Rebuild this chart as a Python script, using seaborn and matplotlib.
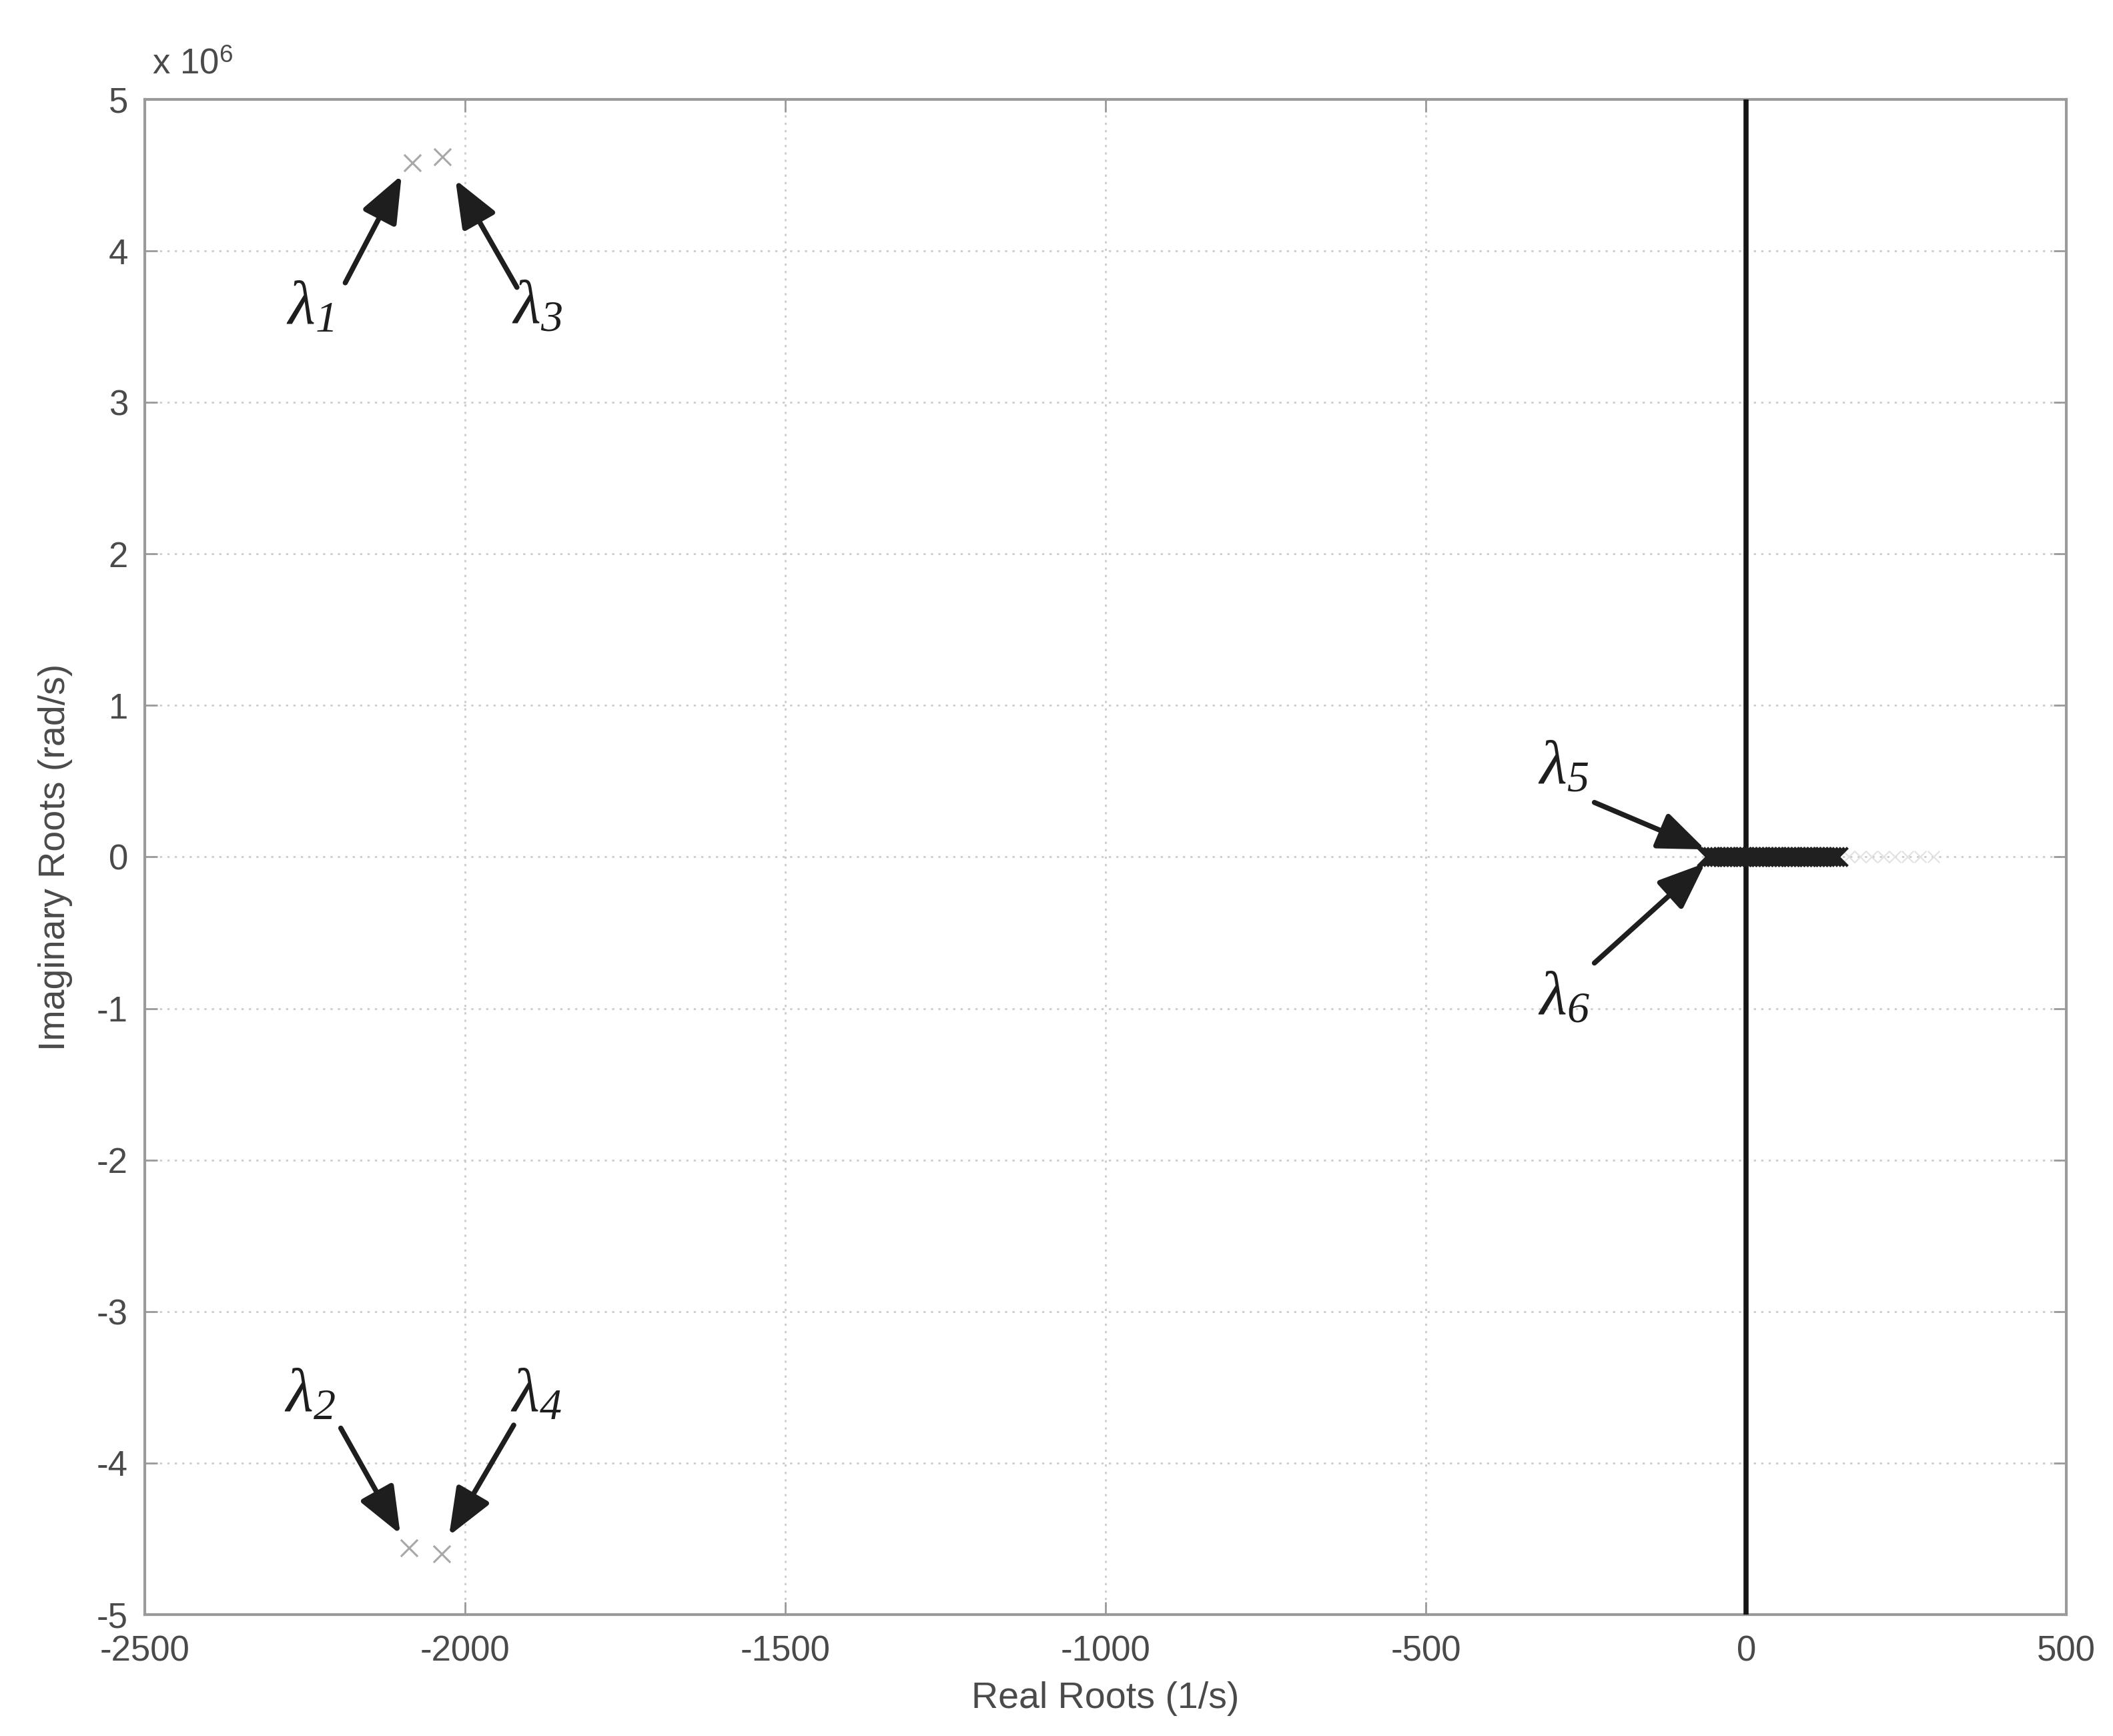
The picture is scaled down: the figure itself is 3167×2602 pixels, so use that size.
import numpy as np
import pandas as pd
import matplotlib
matplotlib.use("Agg")
import matplotlib.pyplot as plt
import seaborn as sns

# ---------------- data ----------------
# complex-conjugate high-frequency roots (real in 1/s, imaginary in 1e6 rad/s)
pair_real = [-2082, -2035, -2088, -2036]
pair_imag = [4.58, 4.62, -4.56, -4.60]

# dense cluster of real roots along the real axis (lambda5 / lambda6 locus)
locus_real = [-62, -57, -52, -47, -42, -37, -32, -27, -22, -17, -12, -7, -2,
              3, 8, 13, 18, 23, 28, 33, 38, 43, 48, 53, 58, 63, 68, 73, 78,
              83, 88, 93, 98, 103, 108, 113, 118, 123, 128, 133, 138, 143]
locus_imag = [0.0] * len(locus_real)

# faint continuation of the locus
faint_real = [160, 178, 196, 214, 232, 252, 272, 292]
faint_imag = [0.0] * len(faint_real)

# imaginary axis line
axis_line_x = [0, 0]
axis_line_y = [-5, 5]

x_ticks = [-2500, -2000, -1500, -1000, -500, 0, 500]
y_ticks = [-5, -4, -3, -2, -1, 0, 1, 2, 3, 4, 5]

labels = [r"$\lambda_{1}$", r"$\lambda_{3}$",
          r"$\lambda_{2}$", r"$\lambda_{4}$",
          r"$\lambda_{5}$", r"$\lambda_{6}$"]
label_pos = [(-2242, 3.63), (-1887, 3.63), (-2242, -3.55), (-1889, -3.55),
             (-285, 0.59), (-285, -0.93)]
arrow_tail = [(-2187, 3.79), (-1919, 3.76), (-2194, -3.77), (-1924, -3.75),
              (-237, 0.36), (-237, -0.70)]
arrow_head = [(-2099, 4.50), (-2015, 4.47), (-2101, -4.47), (-2025, -4.48),
              (-64, 0.05), (-64, -0.04)]

# ---------------- style ----------------
sns.set_theme(style="white")
plt.rcParams["font.family"] = ["Liberation Sans", "DejaVu Sans"]
plt.rcParams["mathtext.fontset"] = "custom"
plt.rcParams["mathtext.rm"] = "Liberation Serif:italic"
plt.rcParams["mathtext.it"] = "Liberation Serif:italic"
plt.rcParams["mathtext.bf"] = "Liberation Serif:bold"
plt.rcParams["axes.unicode_minus"] = False

fig = plt.figure(figsize=(31.67, 26.02), dpi=100)
ax = fig.add_axes([0.0685, 0.070, 0.9095, 0.8727])

spine_col = "#9a9a9a"
tick_col = "#4a4a4a"

# grid (MATLAB-like dotted)
ax.set_xlim(-2500, 500)
ax.set_ylim(-5, 5)
ax.set_xticks(x_ticks)
ax.set_yticks(y_ticks)
ax.grid(True, linestyle=(0, (1.2, 2.8)), color="#cccccc", linewidth=2.0)
ax.set_axisbelow(True)

# imaginary axis line
ax.plot(axis_line_x, axis_line_y, color="#151515", linewidth=5.5, zorder=3)

# roots
pairs_df = pd.DataFrame({"real": pair_real, "imag": pair_imag})
sns.scatterplot(data=pairs_df, x="real", y="imag", marker="x", s=330,
                color="#a8a8a8", linewidth=2.2, ax=ax, zorder=4, legend=False)

faint_df = pd.DataFrame({"real": faint_real, "imag": faint_imag})
sns.scatterplot(data=faint_df, x="real", y="imag", marker="x", s=160,
                color="#e2e2e2", linewidth=1.5, ax=ax, zorder=4, legend=False)

locus_df = pd.DataFrame({"real": locus_real, "imag": locus_imag})
sns.scatterplot(data=locus_df, x="real", y="imag", marker="x", s=400,
                color="#202020", linewidth=3.0, ax=ax, zorder=5, legend=False)

# annotations
for lab, (tx, ty), tail, head in zip(labels, label_pos, arrow_tail, arrow_head):
    ax.text(tx, ty, lab, fontsize=68, color="#1e1e1e", ha="center", va="center",
            zorder=6)
    ax.annotate("", xy=head, xytext=tail,
                arrowprops=dict(arrowstyle="-|>,head_length=0.6,head_width=0.24",
                                mutation_scale=72, lw=5.5, color="#1e1e1e",
                                shrinkA=0, shrinkB=0),
                zorder=6)

# axes styling
for sp in ax.spines.values():
    sp.set_color(spine_col)
    sp.set_linewidth(3)
    sp.set_visible(True)

ax.tick_params(axis="both", direction="in", length=14, width=2,
               color=spine_col, labelcolor=tick_col, labelsize=38,
               top=True, right=True, bottom=True, left=True)
ax.tick_params(axis="x", pad=22)
ax.tick_params(axis="y", pad=18)
ax.set_xticklabels([str(v) for v in x_ticks])
ax.set_yticklabels([str(v) for v in y_ticks])

ax.set_xlabel("Real Roots (1/s)", fontsize=40, color=tick_col, labelpad=14)
ax.set_ylabel("Imaginary Roots (rad/s)", fontsize=40, color=tick_col, labelpad=26)

# exponent label
ax.text(0.004, 1.012, r"x 10$^{\mathregular{6}}$", transform=ax.transAxes,
        fontsize=38, color=tick_col, ha="left", va="bottom")

fig.savefig("out.png", dpi=100, facecolor="white")
